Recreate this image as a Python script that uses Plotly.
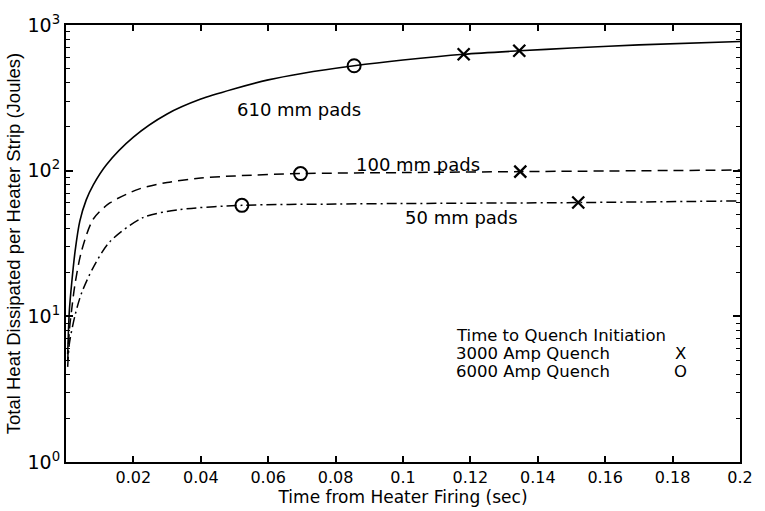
import math
import plotly.graph_objects as go

# Heat dissipated per heater strip vs. time after firing, for three pad sizes
t_610 = [0.0005, 0.001, 0.0017, 0.0027, 0.0041, 0.006, 0.0081, 0.012, 0.02, 0.03, 0.04,
         0.05, 0.06, 0.07, 0.0855, 0.1, 0.118, 0.1345, 0.15, 0.17, 0.2]
q_610 = [5.5, 11, 17, 28, 45, 63, 80, 110, 170, 245, 310,
         365, 420, 465, 525, 575, 630, 665, 695, 730, 770]

t_100 = [0.0005, 0.001, 0.0017, 0.0027, 0.0046, 0.0081, 0.013, 0.0218, 0.03, 0.04,
         0.05, 0.0696, 0.1, 0.1348, 0.2]
q_100 = [5, 8, 11.2, 16.8, 28, 46.6, 60, 75, 83, 89,
         92, 95.5, 97, 98.5, 101]

t_50 = [0.0005, 0.001, 0.0027, 0.0046, 0.0081, 0.013, 0.0228, 0.0336, 0.0522,
        0.08, 0.1, 0.152, 0.2]
q_50 = [4.5, 6.5, 10.2, 14.4, 21.7, 32.5, 47.6, 54, 57.8,
        59, 59.5, 60.4, 62]

# Time to quench initiation markers
x3000_t = [0.118, 0.1345, 0.1348, 0.152]
x3000_q = [630, 665, 98.5, 60.4]
o6000_t = [0.0855, 0.0696, 0.0522]
o6000_q = [525, 95.5, 57.8]

x_ticks = [0.02, 0.04, 0.06, 0.08, 0.1, 0.12, 0.14, 0.16, 0.18, 0.2]
x_tick_text = ["0.02", "0.04", "0.06", "0.08", "0.1", "0.12", "0.14", "0.16", "0.18", "0.2"]
y_ticks = [1, 10, 100, 1000]
y_tick_text = ["10<sup>0</sup>", "10<sup>1</sup>", "10<sup>2</sup>", "10<sup>3</sup>"]
y_minor = [m * d for d in (1, 10, 100) for m in range(2, 10)]

WIDE = "DejaVu Sans, Verdana, sans-serif"
SANS = "Liberation Sans, Arial, Helvetica, sans-serif"
BLACK = "black"

fig = go.Figure()
fig.add_trace(go.Scatter(x=t_610, y=q_610, mode="lines",
                         line=dict(color=BLACK, width=1.6, shape="spline", smoothing=0.8),
                         showlegend=False))
fig.add_trace(go.Scatter(x=t_100, y=q_100, mode="lines",
                         line=dict(color=BLACK, width=1.5, dash="10px,6px", shape="spline", smoothing=0.8),
                         showlegend=False))
fig.add_trace(go.Scatter(x=t_50, y=q_50, mode="lines",
                         line=dict(color=BLACK, width=1.5, dash="10px,4px,2px,4px", shape="spline", smoothing=0.8),
                         showlegend=False))
fig.add_trace(go.Scatter(x=x3000_t, y=x3000_q, mode="markers",
                         marker=dict(symbol="x-thin", size=12, line=dict(color=BLACK, width=2.3)),
                         showlegend=False))
fig.add_trace(go.Scatter(x=o6000_t, y=o6000_q, mode="markers",
                         marker=dict(symbol="circle-open", size=13, color=BLACK, line=dict(color=BLACK, width=2)),
                         showlegend=False))

# Curve labels (annotation y on a log axis is given in log10 units)
for txt, tx, qy in [("610 mm pads", 0.069, 262), ("100 mm pads", 0.1044, 110), ("50 mm pads", 0.1174, 47.7)]:
    fig.add_annotation(x=tx, y=math.log10(qy), text=txt, showarrow=False,
                       font=dict(family=WIDE, size=18, color=BLACK))

# Key for quench markers
plot_h = 511 - 12 - 45
key_lines = [("Time to Quench Initiation", ""), ("3000 Amp Quench", "X"), ("6000 Amp Quench", "O")]
for i, (label, sym) in enumerate(key_lines):
    yk = (466 - 335 - i * 18.5) / plot_h
    fig.add_annotation(xref="paper", yref="paper", x=(456 - 66) / 678, y=yk,
                       xanchor="left", yanchor="middle", text=label, showarrow=False,
                       font=dict(family=WIDE, size=16.5, color=BLACK))
    if sym:
        fig.add_annotation(xref="paper", yref="paper", x=(684 - 66) / 678, y=yk,
                           xanchor="center", yanchor="middle", text=sym, showarrow=False,
                           font=dict(family=WIDE, size=16.5, color=BLACK))

fig.update_layout(
    width=765, height=511,
    margin=dict(l=66, r=21, t=12, b=45),
    paper_bgcolor="white", plot_bgcolor="white",
    font=dict(family=SANS, color=BLACK),
)
fig.update_xaxes(
    range=[0, 0.2], tickvals=x_ticks, ticktext=x_tick_text,
    ticks="inside", ticklen=6, tickwidth=1.5, tickcolor=BLACK,
    showline=True, linecolor=BLACK, linewidth=2, mirror="ticks",
    showgrid=False, zeroline=False, ticklabeloverflow="allow",
    tickfont=dict(family=WIDE, size=16),
    title=dict(text="Time from Heater Firing (sec)", standoff=0,
               font=dict(family=WIDE, size=17)),
)
fig.update_yaxes(
    type="log", range=[0, 3], tickvals=y_ticks, ticktext=y_tick_text,
    ticks="inside", ticklen=7, tickwidth=1.5, tickcolor=BLACK,
    minor=dict(tickvals=y_minor, ticks="inside", ticklen=4, tickcolor=BLACK, tickwidth=1.2,
               showgrid=False),
    showline=True, linecolor=BLACK, linewidth=2, mirror="ticks",
    showgrid=False, zeroline=False, ticklabeloverflow="allow",
    tickfont=dict(family=WIDE, size=19),
    title=dict(text="Total Heat Dissipated per Heater Strip (Joules)", standoff=2,
               font=dict(family=SANS, size=18.5)),
)

fig.write_html("out.html")
